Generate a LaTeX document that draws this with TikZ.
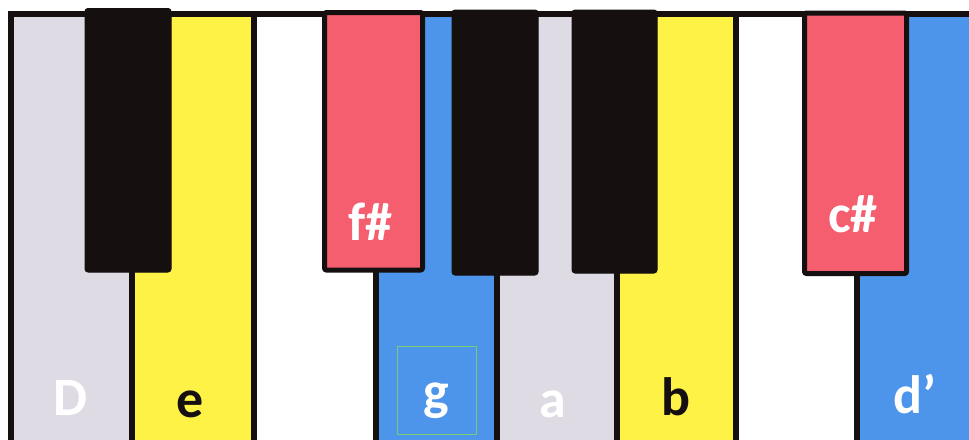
\documentclass[tikz,border=0pt]{standalone}
\usepackage{fontspec}
\setmainfont{Carlito}
\definecolor{keyline}{HTML}{150F10}
\definecolor{keygrey}{HTML}{DEDBE4}
\definecolor{keyyellow}{HTML}{FEF246}
\definecolor{keyblue}{HTML}{4D95EA}
\definecolor{keyred}{HTML}{F45E6E}
\definecolor{boxgreen}{HTML}{7CCB74}
\tikzset{
  whitekey/.style={draw=keyline, line width=6pt},
  blackkey/.style={fill=keyline, draw=keyline, line width=1pt, rounded corners=3pt},
  redkey/.style={fill=keyred, draw=keyline, line width=5pt, rounded corners=2pt},
  lbl/.style={anchor=base, inner sep=0pt, font=\fontsize{54}{60}\selectfont\bfseries},
}
\begin{document}
\begin{tikzpicture}[x=1pt, y=-1pt]
\useasboundingbox (0,0) rectangle (969,439);
\fill[white] (0,0) rectangle (969,439);
% white keys
\draw[whitekey, fill=keygrey]   (10.5,14) rectangle (132,460);
\draw[whitekey, fill=keyyellow] (132,14) rectangle (253.5,460);
\draw[whitekey, fill=white]     (253.5,14) rectangle (376,460);
\draw[whitekey, fill=keyblue]   (376,14) rectangle (496.5,460);
\draw[whitekey, fill=keygrey]   (496.5,14) rectangle (617,460);
\draw[whitekey, fill=keyyellow] (617,14) rectangle (736,460);
\draw[whitekey, fill=white]     (736,14) rectangle (857,460);
\draw[whitekey, fill=keyblue]   (857,14) rectangle (980,460);
% black and red keys
\draw[blackkey] (85,8.5) rectangle (171,272);
\draw[redkey]   (324.5,12.5) rectangle (422.5,270);
\draw[blackkey] (452,10) rectangle (538,275);
\draw[blackkey] (572,10) rectangle (657,273);
\draw[redkey]   (804.5,13) rectangle (906.5,273.5);
% faint text frame around g
\draw[boxgreen, line width=0.8pt] (397,346) rectangle (476,434);
% labels
\node[lbl, text=white]    (lD)  at (71,415)  {D};
\node[lbl, text=keyline]  (le)  at (190,417) {e};
\node[lbl, text=white]    (lfs) at (370,240) {f\#};
\node[lbl, text=white]    (lg)  at (436,409) {g};
\node[lbl, text=white]    (la)  at (553,417) {a};
\node[lbl, text=keyline]  (lb)  at (676,415) {b};
\node[lbl, text=white]    (lcs) at (853,232) {c\#};
\node[lbl, text=white]    (ld)  at (915,413) {d’};
\end{tikzpicture}
\end{document}
